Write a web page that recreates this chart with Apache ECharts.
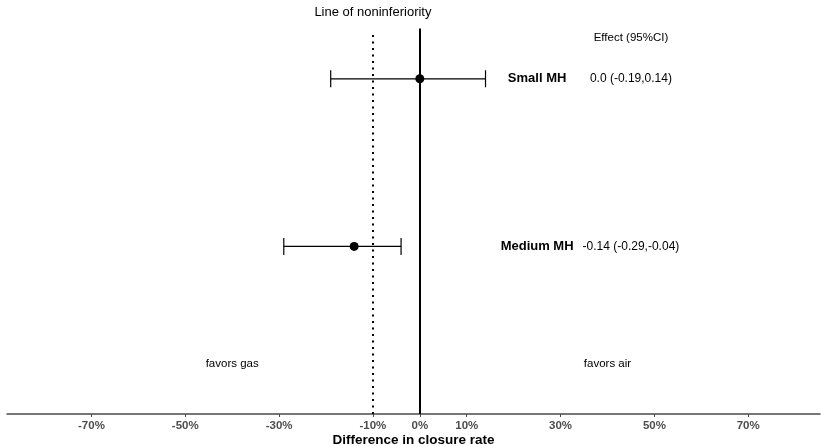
<!DOCTYPE html>
<html>
<head>
<meta charset="utf-8">
<script src="https://cdn.jsdelivr.net/npm/echarts@6/dist/echarts.min.js"></script>
<style>
html,body{margin:0;padding:0;background:#fff;}
#chart{width:821px;height:446px;}
</style>
</head>
<body>
<div id="chart"></div>
<script>
// ---- data ----
var groups = ['Small MH', 'Medium MH'];
var groupRow = [2, 1];
var estimates = [0.0, -0.14];
var lowerCI = [-0.19, -0.29];
var upperCI = [0.14, -0.04];
var effectLabels = ['0.0 (-0.19,0.14)', '-0.14 (-0.29,-0.04)'];
var tickValues = [-0.7, -0.5, -0.3, -0.1, 0, 0.1, 0.3, 0.5, 0.7];
var noninferiorityMargin = -0.10;

var FONT = '"Liberation Sans", Arial, sans-serif';

var ciData = groups.map(function (g, i) {
  return [estimates[i], groupRow[i], lowerCI[i], upperCI[i]];
});
var pointData = groups.map(function (g, i) { return [estimates[i], groupRow[i]]; });
var nameData = groups.map(function (g, i) { return { value: [0.25, groupRow[i]], name: g }; });
var effectData = groups.map(function (g, i) { return { value: [0.45, groupRow[i]], name: effectLabels[i] }; });

var textStyleLabel = function (size, bold) {
  return { show: true, position: 'inside', align: 'center', verticalAlign: 'middle', color: '#000', fontFamily: FONT, fontSize: size, fontWeight: bold ? 'bold' : 'normal', formatter: '{b}' };
};
var hidden = { color: 'rgba(0,0,0,0)', opacity: 1 };

var chart = echarts.init(document.getElementById('chart'), null, { renderer: 'canvas' });
chart.setOption({
  animation: false,
  backgroundColor: '#fff',
  grid: { left: 7, right: 1, top: 0, bottom: 32, containLabel: false, outerBoundsMode: 'none' },
  xAxis: {
    type: 'value',
    min: -0.88,
    max: 0.853,
    splitLine: { show: false },
    axisTick: { show: true, customValues: tickValues, length: 3, lineStyle: { color: '#4a4a4a', width: 1 } },
    axisLine: { show: true, onZero: false, lineStyle: { color: '#4a4a4a', width: 1.5 } },
    axisLabel: {
      customValues: tickValues,
      color: '#4d4d4d',
      fontFamily: FONT,
      fontWeight: 'bold',
      fontSize: 11.5,
      margin: 6,
      formatter: function (v) { return Math.round(v * 100) + '%'; }
    },
    name: 'Difference in closure rate',
    nameLocation: 'middle',
    nameMoveOverlap: false,
    nameGap: 19,
    nameTextStyle: { color: '#000', fontFamily: FONT, fontWeight: 'bold', fontSize: 13.5 }
  },
  yAxis: {
    type: 'value', min: 0, max: 2.47, show: false
  },
  series: [
    {
      type: 'line', data: [], silent: true,
      markLine: {
        symbol: 'none', silent: true, label: { show: false },
        data: [
          [{ coord: [0, 0], lineStyle: { color: '#000', width: 2, type: 'solid' } }, { coord: [0, 2.3] }],
          [{ coord: [noninferiorityMargin, 0], lineStyle: { color: '#000', width: 2, type: [2, 4.5] } }, { coord: [noninferiorityMargin, 2.28] }]
        ]
      }
    },
    {
      type: 'custom',
      data: ciData,
      encode: { x: [0, 2, 3], y: 1 },
      z: 3,
      renderItem: function (params, api) {
        var y = api.value(1);
        var pLo = api.coord([api.value(2), y]);
        var pHi = api.coord([api.value(3), y]);
        var h = 8.5;
        var st = { stroke: '#000', lineWidth: 1.2 };
        return {
          type: 'group', children: [
            { type: 'line', shape: { x1: pLo[0], y1: pLo[1], x2: pHi[0], y2: pHi[1] }, style: st },
            { type: 'line', shape: { x1: pLo[0], y1: pLo[1] - h, x2: pLo[0], y2: pLo[1] + h }, style: st },
            { type: 'line', shape: { x1: pHi[0], y1: pHi[1] - h, x2: pHi[0], y2: pHi[1] + h }, style: st }
          ]
        };
      }
    },
    {
      type: 'scatter', data: pointData, symbol: 'circle', symbolSize: 9, z: 5,
      itemStyle: { color: '#000', opacity: 1 }
    },
    {
      type: 'scatter', data: nameData, symbolSize: 1, itemStyle: hidden,
      label: textStyleLabel(13, true)
    },
    {
      type: 'scatter', data: effectData, symbolSize: 1, itemStyle: hidden,
      label: textStyleLabel(12, false)
    },
    {
      type: 'scatter', symbolSize: 1, itemStyle: hidden,
      label: textStyleLabel(11.5, false),
      data: [
        { value: [noninferiorityMargin, 2.395], name: 'Line of noninferiority', label: { fontSize: 13 } },
        { value: [0.45, 2.245], name: 'Effect (95%CI)' },
        { value: [-0.40, 0.30], name: 'favors gas' },
        { value: [0.40, 0.30], name: 'favors air' }
      ]
    }
  ]
});
</script>
</body>
</html>
